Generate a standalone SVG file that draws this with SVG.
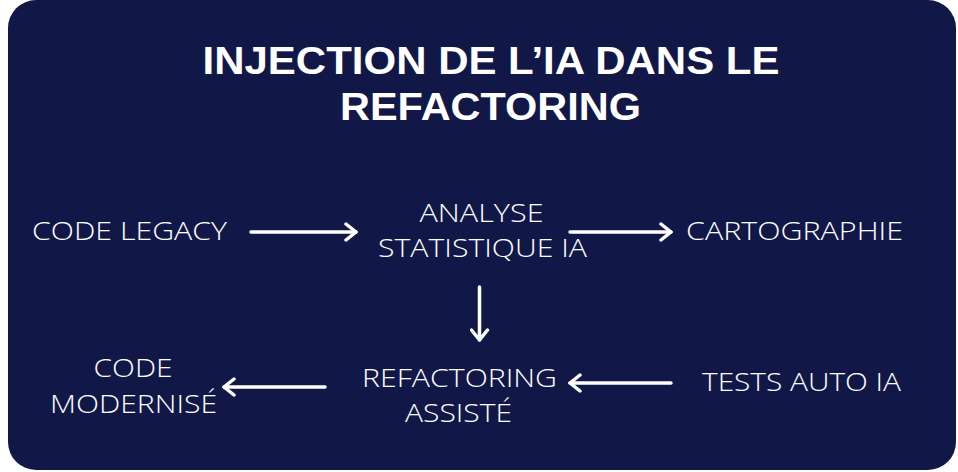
<svg xmlns="http://www.w3.org/2000/svg" width="958" height="472" viewBox="0 0 958 472">
<defs>
<style>
.bg{fill:#111848}
.title{font-family:"Liberation Sans",Arial,sans-serif;font-weight:700;font-size:38px;fill:#ffffff;text-anchor:middle}
.lbl{font-family:"Open Sans","Liberation Sans",sans-serif;font-weight:300;font-size:25.5px;fill:#ffffff}
.conn{stroke:#ffffff;stroke-width:3.5;fill:none;stroke-linecap:round;stroke-linejoin:round}
</style>
<marker id="ah" viewBox="0 0 14 20" refX="12" refY="10" markerWidth="14" markerHeight="20" markerUnits="userSpaceOnUse" orient="auto">
<path d="M2,2 L12,10 L2,18" fill="none" stroke="#ffffff" stroke-width="3.5" stroke-linecap="round" stroke-linejoin="round"/>
</marker>
</defs>
<rect class="bg" x="8" y="0" width="948" height="470" rx="28" ry="28"/>
<g id="title">
<text class="title" x="491" y="74" textLength="577" lengthAdjust="spacingAndGlyphs">INJECTION DE L’IA DANS LE</text>
<text class="title" x="490.5" y="119.5" textLength="301" lengthAdjust="spacingAndGlyphs">REFACTORING</text>
</g>
<g id="node-code-legacy">
<text class="lbl" x="32" y="240" textLength="195" lengthAdjust="spacingAndGlyphs">CODE LEGACY</text>
</g>
<g id="node-analyse">
<text class="lbl" x="419.5" y="222" textLength="124" lengthAdjust="spacingAndGlyphs">ANALYSE</text>
<text class="lbl" x="378" y="257" textLength="209" lengthAdjust="spacingAndGlyphs">STATISTIQUE IA</text>
</g>
<g id="node-cartographie">
<text class="lbl" x="686" y="240" textLength="217" lengthAdjust="spacingAndGlyphs">CARTOGRAPHIE</text>
</g>
<g id="node-refactoring">
<text class="lbl" x="362" y="387" textLength="195" lengthAdjust="spacingAndGlyphs">REFACTORING</text>
<text class="lbl" x="405" y="422" textLength="107" lengthAdjust="spacingAndGlyphs">ASSISTÉ</text>
</g>
<g id="node-tests">
<text class="lbl" x="702" y="391" textLength="199" lengthAdjust="spacingAndGlyphs">TESTS AUTO IA</text>
</g>
<g id="node-code-modernise">
<text class="lbl" x="93.5" y="377" textLength="79" lengthAdjust="spacingAndGlyphs">CODE</text>
<text class="lbl" x="50" y="412.5" textLength="167" lengthAdjust="spacingAndGlyphs">MODERNISÉ</text>
</g>
<g id="connectors">
<line class="conn" x1="251" y1="232" x2="356" y2="232" marker-end="url(#ah)"/>
<line class="conn" x1="570" y1="232" x2="671" y2="232" marker-end="url(#ah)"/>
<line class="conn" x1="479.5" y1="287" x2="479.5" y2="340" marker-end="url(#ah)"/>
<line class="conn" x1="671" y1="383" x2="570" y2="383" marker-end="url(#ah)"/>
<line class="conn" x1="325" y1="387" x2="224" y2="387" marker-end="url(#ah)"/>
</g>
</svg>
